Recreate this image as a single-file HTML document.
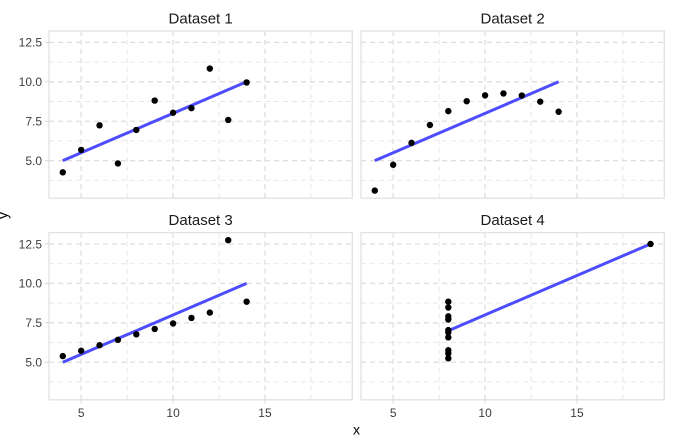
<!DOCTYPE html>
<html>
<head>
<meta charset="utf-8">
<style>
  html, body { margin: 0; padding: 0; background: #ffffff; }
  svg { display: block; }
  text { font-family: "Liberation Sans", Arial, sans-serif; }
  .strip { font-size: 15px; fill: #1a1a1a; }
  .tick { font-size: 12px; fill: #3d3d3d; }
  .title { font-size: 14px; fill: #000000; }
  .maj { stroke: #dedede; stroke-width: 1.3; stroke-dasharray: 5 4; fill: none; }
  .min { stroke: #e6e6e6; stroke-width: 0.9; stroke-dasharray: 5 4; fill: none; }
  .border { fill: none; stroke: #e2e2e2; stroke-width: 1.3; }
  .fit { stroke: #4d4dff; stroke-width: 3; stroke-linecap: butt; fill: none; }
  .pt { fill: #000000; }
  .tk { stroke: #d9d9d9; stroke-width: 1.1; }
</style>
</head>
<body>
<svg width="682" height="443" viewBox="0 0 682 443" xmlns="http://www.w3.org/2000/svg">
  <defs>
    <g id="grid">
      <line class="min" x1="0" x2="303.3" y1="31.09" y2="31.09"/>
      <line class="min" x1="0" x2="303.3" y1="70.51" y2="70.51"/>
      <line class="min" x1="0" x2="303.3" y1="109.94" y2="109.94"/>
      <line class="min" x1="0" x2="303.3" y1="149.35" y2="149.35"/>
      <line class="min" y1="0" y2="167.2" x1="78.12" x2="78.12"/>
      <line class="min" y1="0" y2="167.2" x1="170.03" x2="170.03"/>
      <line class="min" y1="0" y2="167.2" x1="261.94" x2="261.94"/>
      <line class="maj" x1="0" x2="303.3" y1="11.38" y2="11.38"/>
      <line class="maj" x1="0" x2="303.3" y1="50.80" y2="50.80"/>
      <line class="maj" x1="0" x2="303.3" y1="90.22" y2="90.22"/>
      <line class="maj" x1="0" x2="303.3" y1="129.65" y2="129.65"/>
      <line class="maj" y1="0" y2="167.2" x1="32.17" x2="32.17"/>
      <line class="maj" y1="0" y2="167.2" x1="124.08" x2="124.08"/>
      <line class="maj" y1="0" y2="167.2" x1="215.99" x2="215.99"/>
      <rect class="border" x="0" y="0" width="303.3" height="167.2"/>
    </g>
  </defs>

  <text class="strip" x="200.65" y="23.3" text-anchor="middle">Dataset 1</text>
  <text class="strip" x="512.65" y="23.3" text-anchor="middle">Dataset 2</text>
  <text class="strip" x="200.65" y="224.9" text-anchor="middle">Dataset 3</text>
  <text class="strip" x="512.65" y="224.9" text-anchor="middle">Dataset 4</text>

  <g transform="translate(49,31)">
    <use href="#grid"/>
    <line class="fit" x1="13.79" y1="129.65" x2="197.61" y2="50.80"/>
    <circle class="pt" r="3.2" cx="124.08" cy="81.71"/>
    <circle class="pt" r="3.2" cx="87.31" cy="98.90"/>
    <circle class="pt" r="3.2" cx="179.22" cy="88.96"/>
    <circle class="pt" r="3.2" cx="105.70" cy="69.57"/>
    <circle class="pt" r="3.2" cx="142.46" cy="77.14"/>
    <circle class="pt" r="3.2" cx="197.61" cy="51.44"/>
    <circle class="pt" r="3.2" cx="50.55" cy="94.32"/>
    <circle class="pt" r="3.2" cx="13.79" cy="141.31"/>
    <circle class="pt" r="3.2" cx="160.84" cy="37.56"/>
    <circle class="pt" r="3.2" cx="68.93" cy="132.48"/>
    <circle class="pt" r="3.2" cx="32.17" cy="118.92"/>
  </g>

  <g transform="translate(361,31)">
    <use href="#grid"/>
    <line class="fit" x1="13.79" y1="129.65" x2="197.61" y2="50.80"/>
    <circle class="pt" r="3.2" cx="124.08" cy="64.37"/>
    <circle class="pt" r="3.2" cx="87.31" cy="80.13"/>
    <circle class="pt" r="3.2" cx="179.22" cy="70.67"/>
    <circle class="pt" r="3.2" cx="105.70" cy="70.20"/>
    <circle class="pt" r="3.2" cx="142.46" cy="62.47"/>
    <circle class="pt" r="3.2" cx="197.61" cy="80.76"/>
    <circle class="pt" r="3.2" cx="50.55" cy="111.83"/>
    <circle class="pt" r="3.2" cx="13.79" cy="159.60"/>
    <circle class="pt" r="3.2" cx="160.84" cy="64.52"/>
    <circle class="pt" r="3.2" cx="68.93" cy="94.01"/>
    <circle class="pt" r="3.2" cx="32.17" cy="133.74"/>
  </g>

  <g transform="translate(49,232.6)">
    <use href="#grid"/>
    <line class="fit" x1="13.79" y1="129.65" x2="197.61" y2="50.80"/>
    <circle class="pt" r="3.2" cx="124.08" cy="90.86"/>
    <circle class="pt" r="3.2" cx="87.31" cy="101.74"/>
    <circle class="pt" r="3.2" cx="179.22" cy="7.60"/>
    <circle class="pt" r="3.2" cx="105.70" cy="96.37"/>
    <circle class="pt" r="3.2" cx="142.46" cy="85.34"/>
    <circle class="pt" r="3.2" cx="197.61" cy="69.10"/>
    <circle class="pt" r="3.2" cx="50.55" cy="112.61"/>
    <circle class="pt" r="3.2" cx="13.79" cy="123.50"/>
    <circle class="pt" r="3.2" cx="160.84" cy="79.98"/>
    <circle class="pt" r="3.2" cx="68.93" cy="107.25"/>
    <circle class="pt" r="3.2" cx="32.17" cy="118.13"/>
  </g>

  <g transform="translate(361,232.6)">
    <use href="#grid"/>
    <line class="fit" x1="87.31" y1="98.11" x2="289.52" y2="11.38"/>
    <circle class="pt" r="3.2" cx="87.31" cy="104.73"/>
    <circle class="pt" r="3.2" cx="87.31" cy="117.66"/>
    <circle class="pt" r="3.2" cx="87.31" cy="86.91"/>
    <circle class="pt" r="3.2" cx="87.31" cy="69.10"/>
    <circle class="pt" r="3.2" cx="87.31" cy="74.93"/>
    <circle class="pt" r="3.2" cx="87.31" cy="97.48"/>
    <circle class="pt" r="3.2" cx="87.31" cy="125.70"/>
    <circle class="pt" r="3.2" cx="289.52" cy="11.38"/>
    <circle class="pt" r="3.2" cx="87.31" cy="120.82"/>
    <circle class="pt" r="3.2" cx="87.31" cy="83.76"/>
    <circle class="pt" r="3.2" cx="87.31" cy="99.84"/>
  </g>

  <g>
    <line class="tk" x1="45" x2="49" y1="42.38" y2="42.38"/>
    <line class="tk" x1="45" x2="49" y1="81.80" y2="81.80"/>
    <line class="tk" x1="45" x2="49" y1="121.22" y2="121.22"/>
    <line class="tk" x1="45" x2="49" y1="160.65" y2="160.65"/>
    <line class="tk" x1="45" x2="49" y1="243.98" y2="243.98"/>
    <line class="tk" x1="45" x2="49" y1="283.40" y2="283.40"/>
    <line class="tk" x1="45" x2="49" y1="322.82" y2="322.82"/>
    <line class="tk" x1="45" x2="49" y1="362.25" y2="362.25"/>
  </g>
  <g class="tick" text-anchor="end">
    <text x="42" y="46.7">12.5</text>
    <text x="42" y="86.1">10.0</text>
    <text x="42" y="125.5">7.5</text>
    <text x="42" y="165.0">5.0</text>
    <text x="42" y="248.3">12.5</text>
    <text x="42" y="287.7">10.0</text>
    <text x="42" y="327.1">7.5</text>
    <text x="42" y="366.6">5.0</text>
  </g>

  <g>
    <line class="tk" y1="399.8" y2="403.6" x1="81.17" x2="81.17"/>
    <line class="tk" y1="399.8" y2="403.6" x1="173.08" x2="173.08"/>
    <line class="tk" y1="399.8" y2="403.6" x1="264.99" x2="264.99"/>
    <line class="tk" y1="399.8" y2="403.6" x1="393.17" x2="393.17"/>
    <line class="tk" y1="399.8" y2="403.6" x1="485.08" x2="485.08"/>
    <line class="tk" y1="399.8" y2="403.6" x1="576.99" x2="576.99"/>
  </g>
  <g class="tick" text-anchor="middle">
    <text x="81.17" y="417">5</text>
    <text x="173.08" y="417">10</text>
    <text x="264.99" y="417">15</text>
    <text x="393.17" y="417">5</text>
    <text x="485.08" y="417">10</text>
    <text x="576.99" y="417">15</text>
  </g>

  <text class="title" x="356.5" y="434.7" text-anchor="middle">x</text>
  <text class="title" transform="translate(7.3,215.5) rotate(-90)" text-anchor="middle">y</text>
</svg>
</body>
</html>
